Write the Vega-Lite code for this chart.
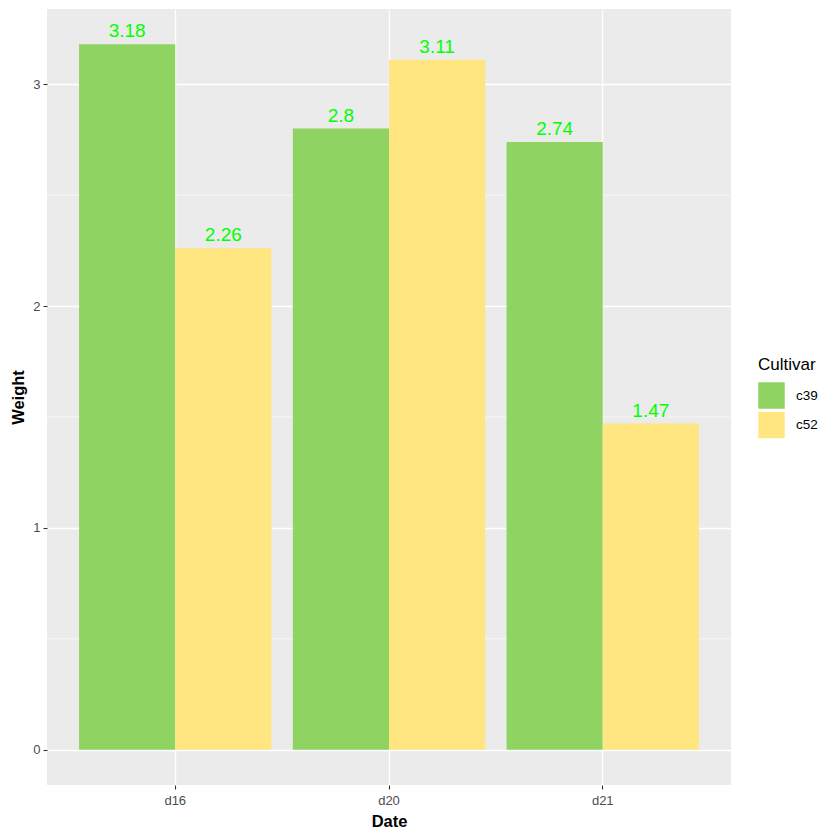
{
  "$schema": "https://vega.github.io/schema/vega-lite/v6.json",
  "width": 684,
  "height": 776,
  "autosize": {"type": "none"},
  "padding": {"left": 47, "top": 9, "right": 109, "bottom": 55},
  "background": "white",
  "config": {
    "font": "Liberation Sans",
    "view": {"fill": "#EBEBEB", "stroke": null},
    "axis": {
      "domain": false,
      "gridColor": "white",
      "gridWidth": 1.3,
      "tickColor": "#333333",
      "tickSize": 4,
      "tickWidth": 1.1,
      "labelColor": "#4D4D4D",
      "labelFontSize": 13,
      "labelFont": "Liberation Sans",
      "titleFont": "Liberation Sans",
      "titleFontSize": 16.5,
      "titleFontWeight": "bold",
      "titleColor": "black"
    }
  },
  "data": {
    "values": [
      {"Date": "d16", "Cultivar": "c39", "Weight": 3.18},
      {"Date": "d16", "Cultivar": "c52", "Weight": 2.26},
      {"Date": "d20", "Cultivar": "c39", "Weight": 2.8},
      {"Date": "d20", "Cultivar": "c52", "Weight": 3.11},
      {"Date": "d21", "Cultivar": "c39", "Weight": 2.74},
      {"Date": "d21", "Cultivar": "c52", "Weight": 1.47}
    ]
  },
  "layer": [
    {
      "data": {"values": [{"minor": 0.5}, {"minor": 1.5}, {"minor": 2.5}]},
      "mark": {"type": "rule", "color": "white", "strokeWidth": 0.6},
      "encoding": {
        "y": {"field": "minor", "type": "quantitative"}
      }
    },
    {
      "mark": {"type": "bar"},
      "encoding": {
        "x": {
          "field": "Date", "type": "nominal",
          "scale": {"paddingInner": 0.1, "paddingOuter": 0.15},
          "axis": {"title": "Date", "labelAngle": 0, "labelPadding": 5, "titlePadding": 6, "bandPosition": 0.5, "grid": true}
        },
        "xOffset": {"field": "Cultivar", "type": "nominal", "scale": {"paddingInner": 0, "paddingOuter": 0}},
        "y": {
          "field": "Weight", "type": "quantitative",
          "scale": {"domain": [-0.159, 3.339], "nice": false, "zero": false},
          "axis": {"title": "Weight", "values": [0, 1, 2, 3], "format": "d", "labelPadding": 3, "titlePadding": 6, "grid": true}
        },
        "y2": {"datum": 0},
        "color": {
          "field": "Cultivar", "type": "nominal",
          "scale": {"domain": ["c39", "c52"], "range": ["#8FD462", "#FFE680"]},
          "legend": {
            "title": "Cultivar",
            "orient": "none",
            "legendX": 711,
            "legendY": 348,
            "titleFontSize": 17,
            "titleFontWeight": "normal",
            "titleColor": "black",
            "titlePadding": 8,
            "labelFontSize": 13.5,
            "labelColor": "black",
            "labelOffset": 11,
            "symbolType": "square",
            "symbolSize": 700,
            "symbolStrokeWidth": 0,
            "rowPadding": 2.5
          }
        }
      }
    },
    {
      "mark": {"type": "text", "color": "#00FF00", "fontSize": 19, "baseline": "alphabetic", "dy": -7},
      "encoding": {
        "x": {"field": "Date", "type": "nominal"},
        "xOffset": {"field": "Cultivar", "type": "nominal"},
        "y": {"field": "Weight", "type": "quantitative"},
        "text": {"field": "Weight", "type": "nominal"}
      }
    }
  ]
}
